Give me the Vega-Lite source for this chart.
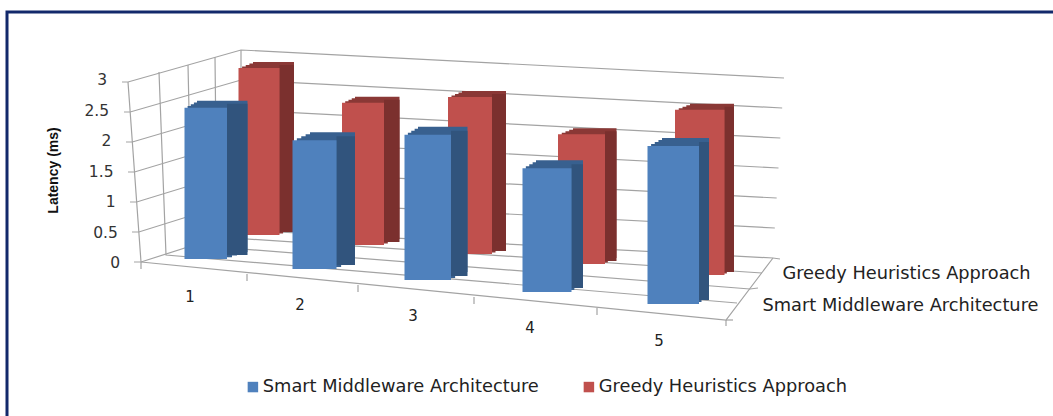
{"$schema":"https://vega.github.io/schema/vega-lite/v6.json","width":1060,"height":420,"autosize":{"type":"none"},"padding":{"left":7,"top":12,"right":0,"bottom":0},"background":"white",
"config":{"view":{"stroke":"#12296b","strokeWidth":3},"font":"DejaVu Sans"},
"datasets":{"bars":[
{"category":1,"series":"Smart Middleware Architecture","latency":2.48},
{"category":2,"series":"Smart Middleware Architecture","latency":2.11},
{"category":3,"series":"Smart Middleware Architecture","latency":2.38},
{"category":4,"series":"Smart Middleware Architecture","latency":2.03},
{"category":5,"series":"Smart Middleware Architecture","latency":2.59},
{"category":1,"series":"Greedy Heuristics Approach","latency":2.83},
{"category":2,"series":"Greedy Heuristics Approach","latency":2.41},
{"category":3,"series":"Greedy Heuristics Approach","latency":2.66},
{"category":4,"series":"Greedy Heuristics Approach","latency":2.2},
{"category":5,"series":"Greedy Heuristics Approach","latency":2.8}],
"ticks":[{"tick":0},{"tick":0.5},{"tick":1},{"tick":1.5},{"tick":2},{"tick":2.5},{"tick":3}],
"frame":[
{"line":"g0","seq":1,"tick":0,"wall":-4},{"line":"g0","seq":2,"tick":0,"wall":0},{"line":"g0","seq":3,"tick":0,"wall":1},{"line":"g0","seq":4,"tick":0,"wall":2},{"line":"g0","seq":5,"tick":0,"wall":26},
{"line":"g1","seq":1,"tick":0.5,"wall":-4.5},{"line":"g1","seq":2,"tick":0.5,"wall":-0.5},{"line":"g1","seq":3,"tick":0.5,"wall":1},{"line":"g1","seq":4,"tick":0.5,"wall":2.5},
{"line":"g2","seq":1,"tick":1,"wall":-5},{"line":"g2","seq":2,"tick":1,"wall":-1},{"line":"g2","seq":3,"tick":1,"wall":1},{"line":"g2","seq":4,"tick":1,"wall":3},
{"line":"g3","seq":1,"tick":1.5,"wall":-5.5},{"line":"g3","seq":2,"tick":1.5,"wall":-1.5},{"line":"g3","seq":3,"tick":1.5,"wall":1},{"line":"g3","seq":4,"tick":1.5,"wall":3.5},
{"line":"g4","seq":1,"tick":2,"wall":-6},{"line":"g4","seq":2,"tick":2,"wall":-2},{"line":"g4","seq":3,"tick":2,"wall":1},{"line":"g4","seq":4,"tick":2,"wall":4},
{"line":"g5","seq":1,"tick":2.5,"wall":-6.5},{"line":"g5","seq":2,"tick":2.5,"wall":-2.5},{"line":"g5","seq":3,"tick":2.5,"wall":1},{"line":"g5","seq":4,"tick":2.5,"wall":4.5},
{"line":"g6","seq":1,"tick":3,"wall":-7},{"line":"g6","seq":2,"tick":3,"wall":-3},{"line":"g6","seq":3,"tick":3,"wall":1},{"line":"g6","seq":4,"tick":3,"wall":5},
{"line":"vL","seq":1,"tick":3,"wall":-3},{"line":"vL","seq":2,"tick":0,"wall":0},{"line":"vL","seq":3,"tick":0,"wall":25},
{"line":"vC","seq":1,"tick":3,"wall":1},{"line":"vC","seq":2,"tick":0,"wall":1},
{"line":"v1","seq":1,"tick":3,"wall":6},{"line":"v1","seq":2,"tick":0,"wall":7},{"line":"v1","seq":3,"tick":0,"wall":13},
{"line":"v2","seq":1,"tick":3,"wall":8},{"line":"v2","seq":2,"tick":0,"wall":9},{"line":"v2","seq":3,"tick":0,"wall":14},{"line":"v2","seq":4,"tick":0,"wall":27},
{"line":"v3","seq":1,"tick":3,"wall":10},{"line":"v3","seq":2,"tick":0,"wall":11},{"line":"v3","seq":3,"tick":0,"wall":15},
{"line":"fl","seq":1,"tick":0,"wall":0},{"line":"fl","seq":2,"tick":0,"wall":12},{"line":"fl","seq":3,"tick":0,"wall":2},
{"line":"fs","seq":1,"tick":0,"wall":12},{"line":"fs","seq":2,"tick":0,"wall":28},
{"line":"t1","seq":1,"tick":0,"wall":16},{"line":"t1","seq":2,"tick":0,"wall":17},
{"line":"t2","seq":1,"tick":0,"wall":18},{"line":"t2","seq":2,"tick":0,"wall":19},
{"line":"t3","seq":1,"tick":0,"wall":20},{"line":"t3","seq":2,"tick":0,"wall":21},
{"line":"t4","seq":1,"tick":0,"wall":22},{"line":"t4","seq":2,"tick":0,"wall":23},
{"line":"t5","seq":1,"tick":0,"wall":12},{"line":"t5","seq":2,"tick":0,"wall":24}
]},
"data":{"name":"bars"},
"layer":[
{"data":{"name":"frame"},"mark":{"type":"line","color":"#a3a3a3","strokeWidth":1.2,"interpolate":"linear","yOffset":{"expr":"datum.wall<=0?2:(datum.wall>=2&&datum.wall<=5)?-2:({'1':-30,'6':-8,'7':-5,'8':-15,'9':-15,'10':-23,'11':-23,'12':60,'13':43,'14':29,'15':13,'16':14,'17':21,'18':25,'19':32,'20':37,'21':44,'22':48,'23':55,'24':66,'25':9,'26':-1,'27':28,'28':60})[datum.wall]"}},"encoding":{
"detail":{"field":"line"},"order":{"field":"seq"},
"x":{"field":"wall","type":"quantitative","axis":null,"scale":{"nice":false,"zero":false,"domain":[-7,-4,-3,0,1,2,5,6,7,8,9,10,11,12,13,14,15,16,17,18,19,20,21,22,23,24,25,26,27,28],"range":[115,127,121,134,234,766,777,152,159,181,185,208,210,719,730,743,755,240,240,351,351,467,467,590,590,719,134,773,751,726]}},
"y":{"field":"tick","type":"quantitative","axis":null,"scale":{"domain":[0,3],"range":[248,68]}}}},

{"data":{"name":"ticks"},"mark":{"type":"text","align":"right","baseline":"middle","fontSize":15.5,"font":"DejaVu Sans","color":"#333333"},"encoding":{
"text":{"field":"tick","type":"quantitative"},
"x":{"field":"tick","type":"quantitative","axis":null,"scale":{"domain":[0,3],"range":[113,100]}},
"y":{"field":"tick","type":"quantitative","scale":{"domain":[0,3],"range":[251,68]},"axis":{"title":"Latency (ms)","labels":false,"ticks":false,"domain":false,"grid":false,"titleFont":"Liberation Sans","titleFontSize":14,"titleFontWeight":"bold","titleColor":"#111111","titleX":53,"titleY":158,"titleAngle":270}}}},

{"transform":[{"filter":"datum.series=='Greedy Heuristics Approach'"}],"mark":{"type":"bar","color":"#8a3836","yOffset":{"expr":"[-6,4,13,23,34][datum.category-1]"},"y2Offset":{"expr":"[-6,4,13,23,34][datum.category-1]"}},"encoding":{
"x":{"field":"category","type":"quantitative","axis":null,"scale":{"padding":0,"domain":[1,2,3,4,5],"range":[266.5,370.25,477,587.75,705]}},
"size":{"field":"category","type":"quantitative","legend":null,"scale":{"domain":[1,2,3,4,5],"range":[41,44.5,44,43.5,44]}},
"y":{"field":"latency","type":"quantitative","axis":null,"scale":{"domain":[0,3],"range":[223,46]}},"y2":{"datum":0}}},
{"transform":[{"filter":"datum.series=='Greedy Heuristics Approach'"}],"mark":{"type":"bar","color":"#8a3836","yOffset":{"expr":"[-4.5,5.5,14.5,24.5,35.5][datum.category-1]"},"y2Offset":{"expr":"[-4.5,5.5,14.5,24.5,35.5][datum.category-1]"}},"encoding":{
"x":{"field":"category","type":"quantitative","axis":null,"scale":{"padding":0,"domain":[1,2,3,4,5],"range":[262.9,366.7,473.5,584.4,702]}},
"size":{"field":"category","type":"quantitative","legend":null,"scale":{"domain":[1,2,3,4,5],"range":[41,43.9,44,44.4,45.4]}},
"y":{"field":"latency","type":"quantitative","axis":null,"scale":{"domain":[0,3],"range":[223,46]}},"y2":{"datum":0}}},
{"transform":[{"filter":"datum.series=='Greedy Heuristics Approach'"}],"mark":{"type":"bar","color":"#8a3836","yOffset":{"expr":"[-3,7,16,26,37][datum.category-1]"},"y2Offset":{"expr":"[-3,7,16,26,37][datum.category-1]"}},"encoding":{
"x":{"field":"category","type":"quantitative","axis":null,"scale":{"padding":0,"domain":[1,2,3,4,5],"range":[259.25,363.1,470,581.1,698.9]}},
"size":{"field":"category","type":"quantitative","legend":null,"scale":{"domain":[1,2,3,4,5],"range":[41,43.25,44,45.25,46.75]}},
"y":{"field":"latency","type":"quantitative","axis":null,"scale":{"domain":[0,3],"range":[223,46]}},"y2":{"datum":0}}},
{"transform":[{"filter":"datum.series=='Greedy Heuristics Approach'"}],"mark":{"type":"bar","color":"#8a3836","yOffset":{"expr":"[-1.5,8.5,17.5,27.5,38.5][datum.category-1]"},"y2Offset":{"expr":"[-1.5,8.5,17.5,27.5,38.5][datum.category-1]"}},"encoding":{
"x":{"field":"category","type":"quantitative","axis":null,"scale":{"padding":0,"domain":[1,2,3,4,5],"range":[255.6,359.5,466.5,577.8,695.8]}},
"size":{"field":"category","type":"quantitative","legend":null,"scale":{"domain":[1,2,3,4,5],"range":[41,42.6,44,46.1,48.1]}},
"y":{"field":"latency","type":"quantitative","axis":null,"scale":{"domain":[0,3],"range":[223,46]}},"y2":{"datum":0}}},
{"transform":[{"filter":"datum.series=='Greedy Heuristics Approach'"}],"mark":{"type":"bar","color":"#7b302e","yOffset":{"expr":"[-3,7,16,26,37][datum.category-1]"},"y2Offset":{"expr":"[-3,7,16,26,37][datum.category-1]"}},"encoding":{
"x":{"field":"category","type":"quantitative","axis":null,"scale":{"padding":0,"domain":[1,2,3,4,5],"range":[279.75,384.75,492,603.75,722.25]}},
"size":{"field":"category","type":"quantitative","legend":null,"scale":{"domain":[1,2,3,4,5],"range":[14.5,15.5,14,11.5,9.5]}},
"y":{"field":"latency","type":"quantitative","axis":null,"scale":{"domain":[0,3],"range":[223,46]}},"y2":{"datum":0}}},
{"transform":[{"filter":"datum.series=='Greedy Heuristics Approach'"}],"mark":{"type":"bar","yOffset":{"expr":"[0,10,19,29,40][datum.category-1]"},"y2Offset":{"expr":"[0,10,19,29,40][datum.category-1]"}},"encoding":{
"color":{"field":"series","type":"nominal","scale":{"domain":["Smart Middleware Architecture","Greedy Heuristics Approach"],"range":["#4f81bd","#c0504d"]},
"legend":{"title":null,"orient":"none","legendX":237,"legendY":366,"direction":"horizontal","columns":2,"symbolType":"square","symbolSize":110,"symbolStrokeWidth":0,"labelFont":"DejaVu Sans","labelFontSize":17.8,"labelOffset":1,"labelColor":"#222222","labelLimit":320,"columnPadding":41,"symbolOpacity":1}},
"x":{"field":"category","type":"quantitative","axis":null,"scale":{"padding":0,"domain":[1,2,3,4,5],"range":[252,356,463,574.5,692.75]}},
"size":{"field":"category","type":"quantitative","legend":null,"scale":{"domain":[1,2,3,4,5],"range":[41,42,44,47,49.5]}},
"y":{"field":"latency","type":"quantitative","axis":null,"scale":{"domain":[0,3],"range":[223,46]}},"y2":{"datum":0}}},

{"transform":[{"filter":"datum.series=='Smart Middleware Architecture'"}],"mark":{"type":"bar","color":"#38608f","yOffset":{"expr":"[-7,2,13,25,37][datum.category-1]"},"y2Offset":{"expr":"[-7,2,13,25,37][datum.category-1]"}},"encoding":{
"x":{"field":"category","type":"quantitative","axis":null,"scale":{"padding":0,"domain":[1,2,3,4,5],"range":[215.25,325.5,435.75,552.5,678.5]}},
"size":{"field":"category","type":"quantitative","legend":null,"scale":{"domain":[1,2,3,4,5],"range":[50.5,45,49.5,47,47]}},
"y":{"field":"latency","type":"quantitative","axis":null,"scale":{"domain":[0,3],"range":[247,64]}},"y2":{"datum":0}}},
{"transform":[{"filter":"datum.series=='Smart Middleware Architecture'"}],"mark":{"type":"bar","color":"#38608f","yOffset":{"expr":"[-5.25,4,15,27,39][datum.category-1]"},"y2Offset":{"expr":"[-5.25,4,15,27,39][datum.category-1]"}},"encoding":{
"x":{"field":"category","type":"quantitative","axis":null,"scale":{"padding":0,"domain":[1,2,3,4,5],"range":[211.1,321,432,549.4,675.5]}},
"size":{"field":"category","type":"quantitative","legend":null,"scale":{"domain":[1,2,3,4,5],"range":[48.4,44.75,48.75,47.5,48.1]}},
"y":{"field":"latency","type":"quantitative","axis":null,"scale":{"domain":[0,3],"range":[247,64]}},"y2":{"datum":0}}},
{"transform":[{"filter":"datum.series=='Smart Middleware Architecture'"}],"mark":{"type":"bar","color":"#38608f","yOffset":{"expr":"[-3.5,6,17,29,41][datum.category-1]"},"y2Offset":{"expr":"[-3.5,6,17,29,41][datum.category-1]"}},"encoding":{
"x":{"field":"category","type":"quantitative","axis":null,"scale":{"padding":0,"domain":[1,2,3,4,5],"range":[206.9,316.5,428.25,546.25,672.4]}},
"size":{"field":"category","type":"quantitative","legend":null,"scale":{"domain":[1,2,3,4,5],"range":[46.25,44.5,48,48,49.25]}},
"y":{"field":"latency","type":"quantitative","axis":null,"scale":{"domain":[0,3],"range":[247,64]}},"y2":{"datum":0}}},
{"transform":[{"filter":"datum.series=='Smart Middleware Architecture'"}],"mark":{"type":"bar","color":"#38608f","yOffset":{"expr":"[-1.75,8,19,31,43][datum.category-1]"},"y2Offset":{"expr":"[-1.75,8,19,31,43][datum.category-1]"}},"encoding":{
"x":{"field":"category","type":"quantitative","axis":null,"scale":{"padding":0,"domain":[1,2,3,4,5],"range":[202.8,312,424.5,543.1,669.3]}},
"size":{"field":"category","type":"quantitative","legend":null,"scale":{"domain":[1,2,3,4,5],"range":[44.4,44.25,47.25,48.5,50.4]}},
"y":{"field":"latency","type":"quantitative","axis":null,"scale":{"domain":[0,3],"range":[247,64]}},"y2":{"datum":0}}},
{"transform":[{"filter":"datum.series=='Smart Middleware Architecture'"}],"mark":{"type":"bar","color":"#31547d","yOffset":{"expr":"[-4,6,17,29,41][datum.category-1]"},"y2Offset":{"expr":"[-4,6,17,29,41][datum.category-1]"}},"encoding":{
"x":{"field":"category","type":"quantitative","axis":null,"scale":{"padding":0,"domain":[1,2,3,4,5],"range":[230.25,338.75,452.25,570.25,697]}},
"size":{"field":"category","type":"quantitative","legend":null,"scale":{"domain":[1,2,3,4,5],"range":[20.5,18.5,16.5,11.5,10]}},
"y":{"field":"latency","type":"quantitative","axis":null,"scale":{"domain":[0,3],"range":[247,64]}},"y2":{"datum":0}}},
{"transform":[{"filter":"datum.series=='Smart Middleware Architecture'"}],"mark":{"type":"bar","yOffset":{"expr":"[0,10,21,33,45][datum.category-1]"},"y2Offset":{"expr":"[0,10,21,33,45][datum.category-1]"}},"encoding":{
"color":{"field":"series","type":"nominal","scale":{"domain":["Smart Middleware Architecture","Greedy Heuristics Approach"],"range":["#4f81bd","#c0504d"]}},
"x":{"field":"category","type":"quantitative","axis":null,"scale":{"padding":0,"domain":[1,2,3,4,5],"range":[198.75,307.5,420.75,540,666.25]}},
"size":{"field":"category","type":"quantitative","legend":null,"scale":{"domain":[1,2,3,4,5],"range":[42.5,44,46.5,49,51.5]}},
"y":{"field":"latency","type":"quantitative","axis":null,"scale":{"domain":[0,3],"range":[247,64]}},"y2":{"datum":0}}},

{"transform":[{"filter":"datum.series=='Smart Middleware Architecture'"}],"mark":{"type":"text","fontSize":15,"font":"DejaVu Sans","color":"#222222"},"encoding":{
"text":{"field":"category","type":"nominal"},
"x":{"field":"category","type":"quantitative","axis":null,"scale":{"domain":[1,2,3,4,5],"range":[183,293,406,523,652]}},
"y":{"field":"category","type":"quantitative","axis":null,"scale":{"domain":[1,2,3,4,5],"range":[285,293,304,316,329]}}}},
{"transform":[{"filter":"datum.category==1"}],"mark":{"type":"text","fontSize":17.8,"font":"DejaVu Sans","color":"#222222"},"encoding":{
"text":{"field":"series","type":"nominal"},
"x":{"field":"series","type":"nominal","axis":null,"sort":["Smart Middleware Architecture","Greedy Heuristics Approach"],"scale":{"type":"point","padding":0,"range":[893.5,899.5]}},
"y":{"field":"series","type":"nominal","axis":null,"sort":["Smart Middleware Architecture","Greedy Heuristics Approach"],"scale":{"type":"point","padding":0,"range":[294,262]}}}}
],
"resolve":{"scale":{"x":"independent","y":"independent","size":"independent"}}}
